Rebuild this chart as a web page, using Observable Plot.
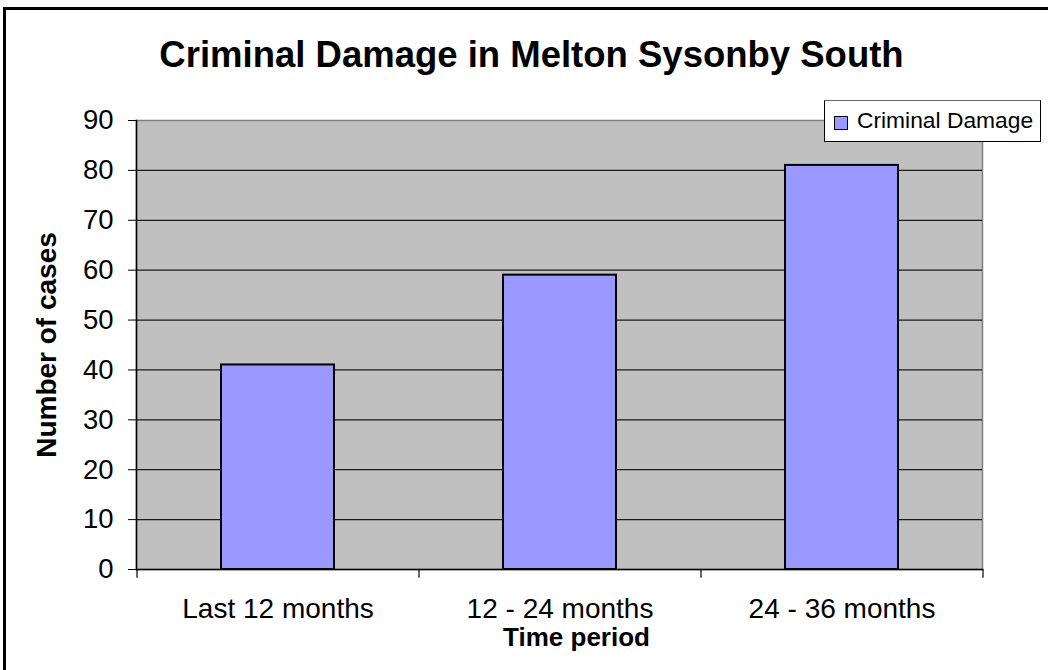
<!DOCTYPE html>
<html>
<head>
<meta charset="utf-8">
<script src="https://cdn.jsdelivr.net/npm/d3@7"></script>
<script src="https://cdn.jsdelivr.net/npm/@observablehq/plot@0.6"></script>
<style>
  html, body { margin: 0; padding: 0; background: #fff; }
  body { font-family: "Liberation Sans", Arial, sans-serif; }
  #wrap { position: relative; width: 1048px; height: 670px; overflow: hidden; }
  #border { position: absolute; left: 3px; top: 7px; width: 1200px; height: 800px;
            border-left: 3px solid #000; border-top: 3px solid #000; box-sizing: border-box; }
  #legend { position: absolute; left: 824px; top: 100px; width: 217px; height: 42px;
            box-sizing: border-box; border: 1px solid #000; border-top-color: #666; background: #fff;
            font-size: 22.8px; color: #000; }
  #legend .sw { position: absolute; left: 9px; top: 15px; width: 14px; height: 14px;
                box-sizing: border-box; background: #9999ff; border: 1.5px solid #000; }
  #legend .lb { position: absolute; left: 32px; top: 6px; white-space: nowrap; }
  #chart { position: absolute; left: 0; top: 0; }
</style>
</head>
<body>
<div id="wrap">
  <div id="chart"></div>
  <div id="border"></div>
  <div id="legend"><div class="sw"></div><div class="lb">Criminal Damage</div></div>
</div>
<script>
const categories = ["Last 12 months", "12 - 24 months", "24 - 36 months"];
const values = [41, 59, 81];
const yTicks = [0, 10, 20, 30, 40, 50, 60, 70, 80, 90];
const title = "Criminal Damage in Melton Sysonby South";
const xTitle = "Time period";
const yTitle = "Number of cases";

const data = categories.map((c, i) => ({category: c, value: values[i]}));

const W = 1048, H = 670, mL = 136, mR = 66, mT = 120, mB = 101;
const step = (W - mL - mR) / categories.length;
const font = "Liberation Sans, Arial, sans-serif";

const plot = Plot.plot({
  width: W, height: H,
  marginLeft: mL, marginRight: mR, marginTop: mT, marginBottom: mB,
  style: {fontFamily: font, color: "#000", background: "transparent", overflow: "visible"},
  x: {domain: categories, paddingInner: 0.6, paddingOuter: 0.3},
  y: {domain: [0, 90]},
  marks: [
    Plot.frame({fill: "#c0c0c0", stroke: "#808080", strokeWidth: 1.5}),
    Plot.ruleY(yTicks.slice(1, -1), {stroke: "#1a1a1a", strokeWidth: 1.2}),
    Plot.barY(data, {x: "category", y: "value", fill: "#9999ff", stroke: "#000", strokeWidth: 2}),
    Plot.frame({anchor: "left", stroke: "#000", strokeWidth: 1.5}),
    Plot.frame({anchor: "bottom", stroke: "#000", strokeWidth: 1.5}),
    Plot.ruleX(categories, {x: d => d, y1: 0, y2: -1.75, dx: -step / 2, stroke: "#000", strokeWidth: 1.2}),
    Plot.ruleX(categories.slice(-1), {x: d => d, y1: 0, y2: -1.75, dx: step / 2, stroke: "#000", strokeWidth: 1.2}),
    Plot.axisY({ticks: yTicks, tickSize: 8, tickPadding: 15, fontSize: 27.5, label: null, tickFormat: d => String(d), stroke: "#000"}),
    Plot.axisX({tickSize: 0, tickPadding: 29, fontSize: 28, label: null}),
    Plot.text([title], {frameAnchor: "top", dx: -28, dy: -54, lineAnchor: "bottom", fontSize: 36.5, fontWeight: "bold", fill: "#000"}),
    Plot.text([xTitle], {frameAnchor: "bottom", dx: 17, dy: 76, lineAnchor: "bottom", fontSize: 26, fontWeight: "bold", fill: "#000"}),
    Plot.text([yTitle], {frameAnchor: "left", dx: -89, rotate: -90, textAnchor: "middle", fontSize: 28, fontWeight: "bold", fill: "#000"})
  ]
});
document.getElementById("chart").appendChild(plot);
</script>
</body>
</html>
